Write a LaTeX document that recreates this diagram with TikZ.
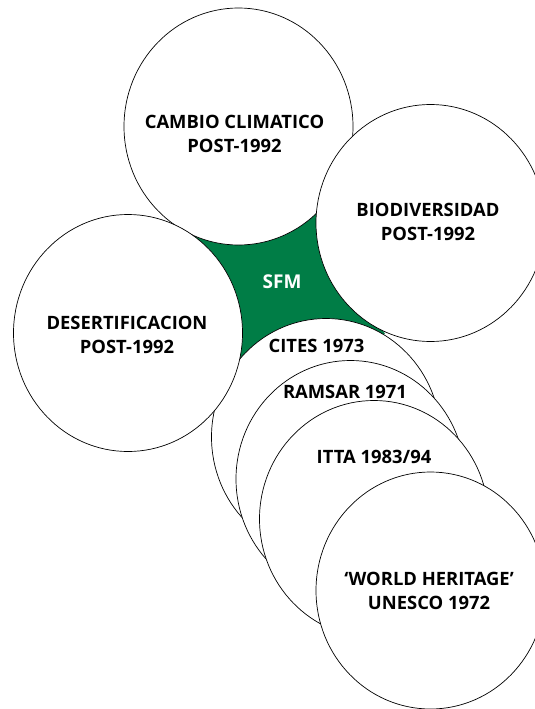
\documentclass[tikz,border=0pt]{standalone}
\usepackage{fontspec}
\setmainfont{Open Sans}
\usetikzlibrary{shapes.geometric}
\definecolor{sfmgreen}{RGB}{0,125,70}

\begin{document}
\begin{tikzpicture}[
  x=1pt, y=-1pt,
  pact/.style={ellipse, draw, fill=white, line width=0.7pt, minimum width=229pt, minimum height=237pt, inner sep=0pt},
  pactlabel/.style={align=center, inner sep=0pt, font=\fontsize{18.4}{24}\selectfont\bfseries}
]
\path[use as bounding box, clip] (0,0) rectangle (535,709);
% SFM core between the conventions
\coordinate (tipnw) at (181,228);
\coordinate (tipne) at (316,213);
\coordinate (tipse) at (385,334);
\coordinate (tipsw) at (238,363);
\fill[sfmgreen] (tipnw) -- (tipne) -- (tipse) -- (tipsw) -- cycle;

\node[pact] (cambio) at (238.5,126.5) {};
\node[pactlabel] (cambiotxt) at (234.5,133.5) {CAMBIO CLIMATICO\\POST-1992};
\node[pact] (bio) at (430.5,223) {};
\node[pactlabel] (biotxt) at (428,222) {BIODIVERSIDAD\\POST-1992};
\node[pact] (cites) at (326,437) {};
\node[pactlabel] (citestxt) at (316.5,345.5) {CITES 1973};
\node[pact] (ramsar) at (350.5,479) {};
\node[pactlabel] (ramsartxt) at (345,392) {RAMSAR 1971};
\node[pact] (itta) at (374,519) {};
\node[pactlabel] (ittatxt) at (374,456.5) {ITTA 1983/94};
\node[pact] (wh) at (430.5,590.5) {};
\node[pactlabel] (whtxt) at (429,590.5) {‘WORLD HERITAGE’\\UNESCO 1972};
\node[pact] (des) at (128,333) {};
\node[pactlabel] (destxt) at (127,334.5) {DESERTIFICACION\\POST-1992};

\node[font=\fontsize{19}{24}\selectfont\bfseries, text=white, inner sep=0pt] (sfm) at (282,281.5) {SFM};
\end{tikzpicture}
\end{document}
